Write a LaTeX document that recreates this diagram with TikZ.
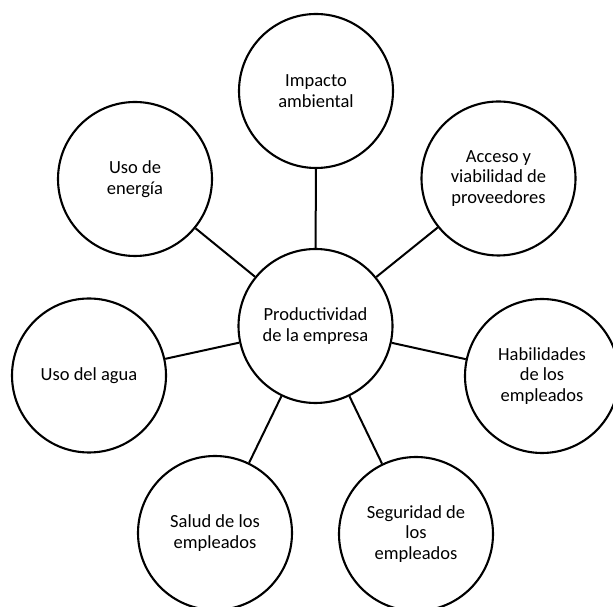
\documentclass[tikz,border=0pt]{standalone}
\usepackage{fontspec}
\setmainfont{Carlito}
\begin{document}
\begin{tikzpicture}[x=1pt,y=1pt,
  bub/.style={circle,draw=black,line width=2.1pt,fill=white,minimum size=154pt,inner sep=0pt,align=center,font=\fontsize{18.5}{20.5}\selectfont},
  link/.style={draw=black,line width=2pt}]
\useasboundingbox (0,0) rectangle (613,607);
\node[bub] (C) at (315.5,281) {Productividad\\de la empresa};
\node[bub] (I) at (316,516) {Impacto\\ambiental};
\node[bub] (E) at (135,428) {Uso de\\energía};
\node[bub] (A) at (498.5,428.5) {Acceso y\\viabilidad de\\proveedores};
\node[bub] (W) at (89,231.5) {Uso del agua};
\node[bub] (H) at (542,231) {Habilidades\\de los\\empleados};
\node[bub] (S) at (215,74) {Salud de los\\empleados};
\node[bub] (G) at (416,73) {Seguridad de\\los\\empleados};
\foreach \n in {I,E,A,W,H,S,G} \draw[link] (C) -- (\n);
\end{tikzpicture}
\end{document}
